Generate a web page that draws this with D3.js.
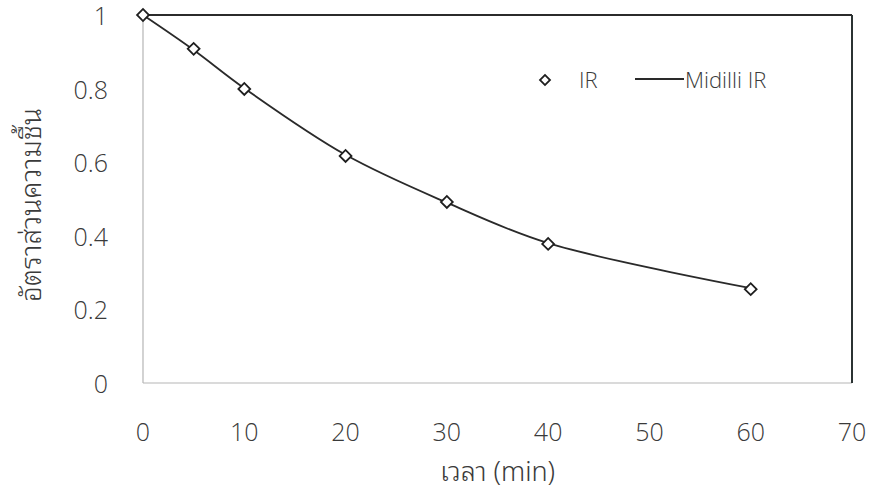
<!DOCTYPE html>
<html>
<head>
<meta charset="utf-8">
<script src="https://cdn.jsdelivr.net/npm/d3@7"></script>
<style>
  body { margin: 0; background: #fff; }
  svg text { font-family: "Open Sans", "Noto Sans", sans-serif; font-weight: 300; fill: #3a3a3a; }
  svg text.thai { font-family: "Noto Sans Thai Looped", "Noto Looped Thai", "Loma", "Garuda", "Noto Sans Thai", "DejaVu Sans", sans-serif; font-weight: 300; }
</style>
</head>
<body>
<div id="chart"></div>
<script>
// measured points (IR drying)
const timeMin = [0, 5, 10, 20, 30, 40, 60];
const moistureRatio = [1, 0.908, 0.799, 0.617, 0.492, 0.378, 0.255];
// Midilli model curve
const modelTime = [0, 5, 10, 20, 30, 40, 60];
const modelRatio = [1, 0.905, 0.801, 0.620, 0.490, 0.380, 0.258];
const xTicks = [0, 10, 20, 30, 40, 50, 60, 70];
const yTicks = [0, 0.2, 0.4, 0.6, 0.8, 1];

const width = 875, height = 501;
const margin = {top: 15, right: 23, bottom: 118, left: 143};

const svg = d3.select("#chart").append("svg")
  .attr("width", width)
  .attr("height", height);

const x = d3.scaleLinear().domain([0, 70]).range([margin.left, width - margin.right]);
const y = d3.scaleLinear().domain([0, 1]).range([height - margin.bottom, margin.top]);

// plot frame: grey axes on left/bottom, dark line on top/right
svg.append("line")
  .attr("x1", x(0)).attr("x2", x(0)).attr("y1", y(0)).attr("y2", y(1))
  .attr("stroke", "#b5b5b5").attr("stroke-width", 1.2);
svg.append("line")
  .attr("x1", x(0)).attr("x2", x(70)).attr("y1", y(0)).attr("y2", y(0))
  .attr("stroke", "#b5b5b5").attr("stroke-width", 1.2);
svg.append("line")
  .attr("x1", x(0)).attr("x2", x(70)).attr("y1", y(1)).attr("y2", y(1))
  .attr("stroke", "#2b2b2b").attr("stroke-width", 2);
svg.append("line")
  .attr("x1", x(70)).attr("x2", x(70)).attr("y1", y(1)).attr("y2", y(0))
  .attr("stroke", "#2b3333").attr("stroke-width", 2);

// tick labels
svg.selectAll(".xt").data(xTicks).enter().append("text")
  .attr("x", d => x(d))
  .attr("y", 441)
  .attr("text-anchor", "middle")
  .style("font-size", "25px")
  .text(d => d);

svg.selectAll(".yt").data(yTicks).enter().append("text")
  .attr("x", 108)
  .attr("y", d => y(d) + 10)
  .attr("text-anchor", "end")
  .style("font-size", "25px")
  .text(d => d);

// axis titles
svg.append("text")
  .attr("class", "thai")
  .attr("x", (x(0) + x(70)) / 2)
  .attr("y", 481)
  .attr("text-anchor", "middle")
  .style("font-size", "27px")
  .text("เวลา (min)");

svg.append("text")
  .attr("class", "thai")
  .attr("transform", `translate(41,${(y(0) + y(1)) / 2 + 6}) rotate(-90)`)
  .attr("text-anchor", "middle")
  .style("font-size", "28px")
  .text("อัตราส่วนความชื้น");

// model line
const line = d3.line()
  .x((d, i) => x(modelTime[i]))
  .y(d => y(d))
  .curve(d3.curveCatmullRom);

svg.append("path")
  .datum(modelRatio)
  .attr("d", line)
  .attr("fill", "none")
  .attr("stroke", "#2a2a2a")
  .attr("stroke-width", 1.8);

// measured points as diamonds
const diamond = d3.symbol().type(d3.symbolSquare).size(70);
svg.selectAll(".pt").data(moistureRatio).enter().append("path")
  .attr("d", diamond)
  .attr("transform", (d, i) => `translate(${x(timeMin[i])},${y(d)}) rotate(45)`)
  .attr("fill", "#fff")
  .attr("stroke", "#1e1e1e")
  .attr("stroke-width", 1.8);

// legend
const legend = svg.append("g");
legend.append("path")
  .attr("d", d3.symbol().type(d3.symbolSquare).size(50))
  .attr("transform", "translate(545,80) rotate(45)")
  .attr("fill", "#fff")
  .attr("stroke", "#1e1e1e")
  .attr("stroke-width", 1.8);
legend.append("text")
  .attr("x", 579).attr("y", 88)
  .style("font-size", "22px")
  .text("IR");
legend.append("line")
  .attr("x1", 635).attr("x2", 684).attr("y1", 79).attr("y2", 79)
  .attr("stroke", "#2a2a2a").attr("stroke-width", 1.8);
legend.append("text")
  .attr("x", 685).attr("y", 88)
  .style("font-size", "22px")
  .text("Midilli IR");
</script>
</body>
</html>
